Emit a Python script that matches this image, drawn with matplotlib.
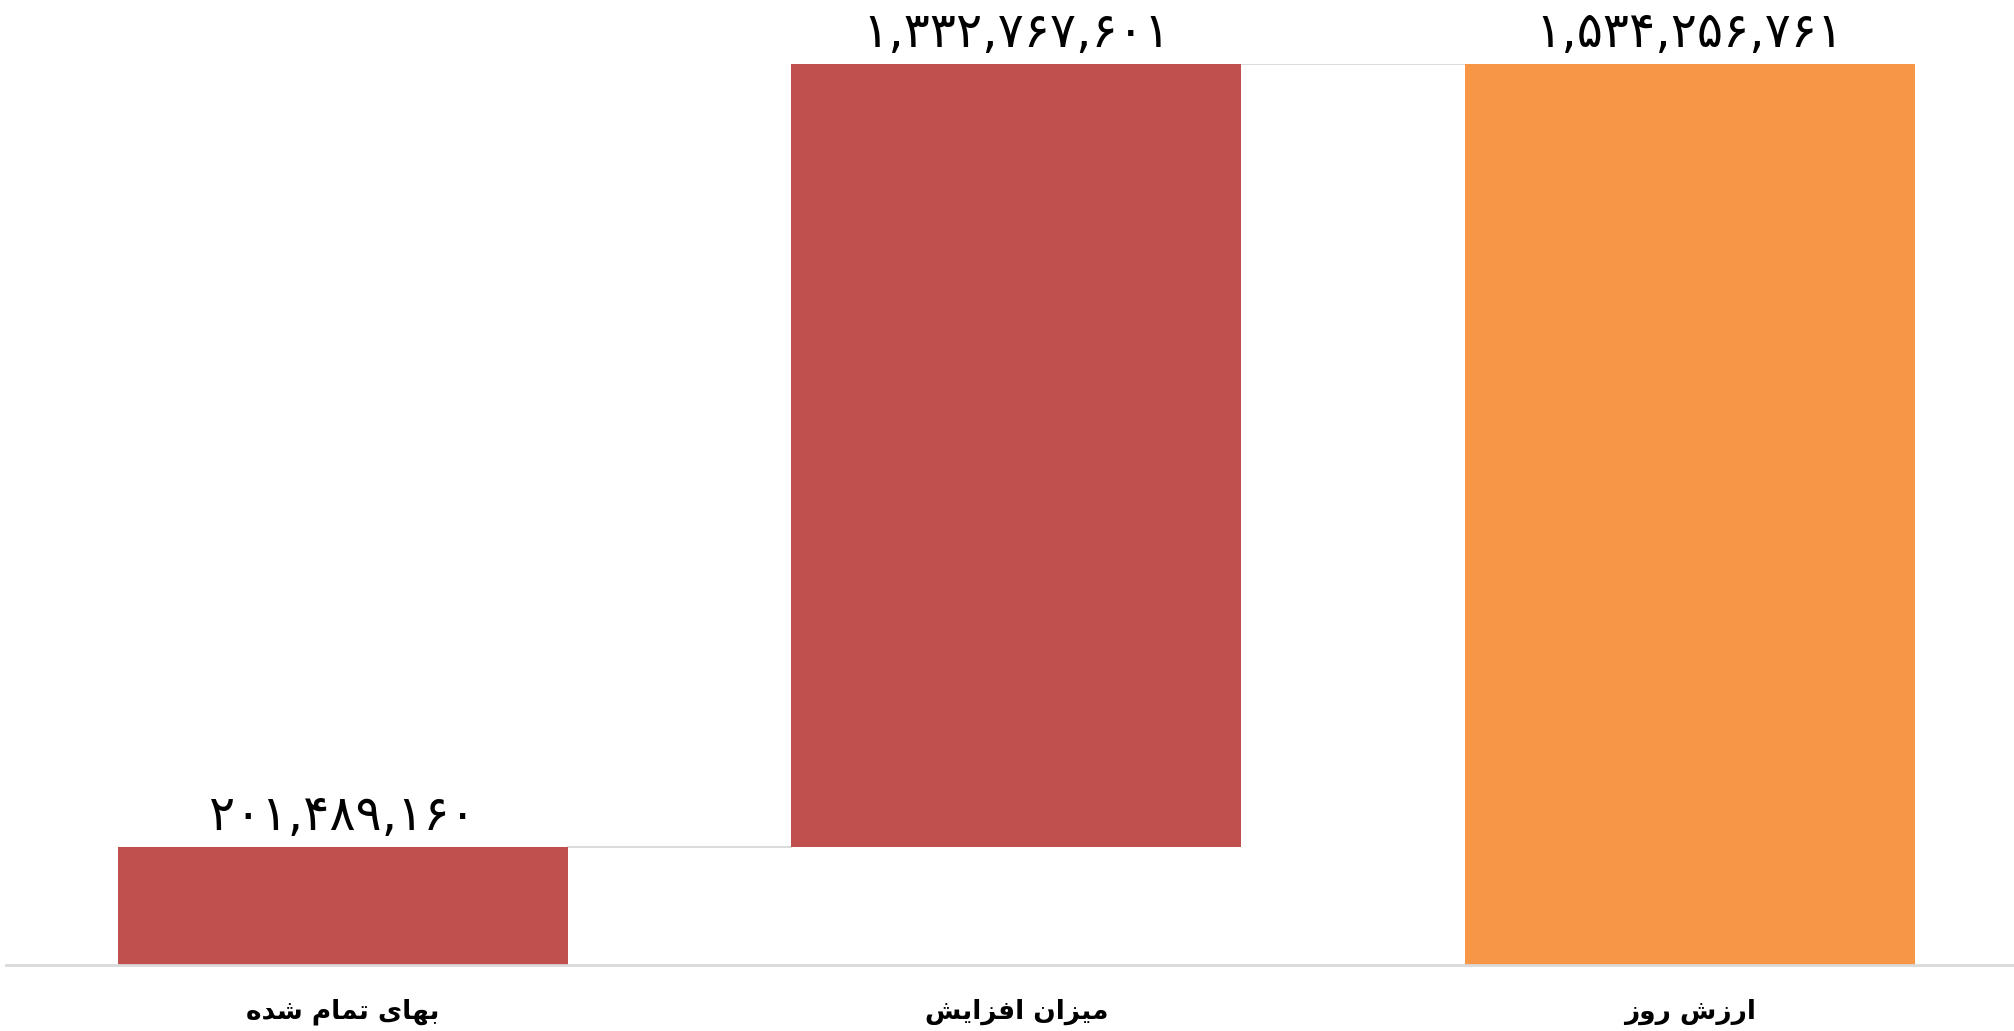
import matplotlib
matplotlib.use("Agg")
import matplotlib.pyplot as plt

categories = ["بهای تمام شده", "میزان افزایش", "ارزش روز"]
values = [201489160, 1332767601, 1534256761]
kinds = ["start", "delta", "total"]
colors = ["#C0504D", "#C0504D", "#F79646"]

# --- minimal Arabic/Persian shaping (matplotlib has no complex text layout) ---
FORMS = {
    "\u0627": ("\uFE8D", "\uFE8E", None, None),
    "\u0628": ("\uFE8F", "\uFE90", "\uFE91", "\uFE92"),
    "\u062A": ("\uFE95", "\uFE96", "\uFE97", "\uFE98"),
    "\u062F": ("\uFEA9", "\uFEAA", None, None),
    "\u0631": ("\uFEAD", "\uFEAE", None, None),
    "\u0632": ("\uFEAF", "\uFEB0", None, None),
    "\u0634": ("\uFEB5", "\uFEB6", "\uFEB7", "\uFEB8"),
    "\u0641": ("\uFED1", "\uFED2", "\uFED3", "\uFED4"),
    "\u0645": ("\uFEE1", "\uFEE2", "\uFEE3", "\uFEE4"),
    "\u0646": ("\uFEE5", "\uFEE6", "\uFEE7", "\uFEE8"),
    "\u0647": ("\uFEE9", "\uFEEA", "\uFEEB", "\uFEEC"),
    "\u0648": ("\uFEED", "\uFEEE", None, None),
    "\u06CC": ("\uFBFC", "\uFBFD", "\uFBFE", "\uFBFF"),
}


def shape(text):
    out = []
    n = len(text)
    for i, ch in enumerate(text):
        if ch not in FORMS:
            out.append(ch)
            continue
        f = FORMS[ch]
        prev = text[i - 1] if i > 0 else None
        nxt = text[i + 1] if i < n - 1 else None
        join_prev = prev in FORMS and FORMS[prev][2] is not None
        join_next = nxt in FORMS and f[2] is not None
        if join_prev and join_next:
            out.append(f[3])
        elif join_prev:
            out.append(f[1])
        elif join_next:
            out.append(f[2])
        else:
            out.append(f[0])
    return "".join(reversed(out))


PERSIAN = str.maketrans("0123456789", "۰۱۲۳۴۵۶۷۸۹")


def fmt(v):
    return f"{v:,}".translate(PERSIAN)


fig = plt.figure(figsize=(20.15, 10.31), dpi=100)
W, H = 2015, 1031
ax = fig.add_axes([6 / W, (H - 965) / H, (W - 6) / W, (965 - 64) / H])

x = list(range(len(categories)))
bottoms = []
heights = []
run = 0
for v, k in zip(values, kinds):
    if k == "start":
        bottoms.append(0); heights.append(v); run = v
    elif k == "delta":
        bottoms.append(run); heights.append(v); run += v
    else:
        bottoms.append(0); heights.append(v); run = v

bw = 0.668
ax.bar(x, heights, bottom=bottoms, width=bw, color=colors, zorder=2)

# connectors
levels = [bottoms[0] + heights[0], bottoms[1] + heights[1]]
for i, lvl in enumerate(levels):
    ax.plot([x[i] + bw / 2, x[i + 1] - bw / 2], [lvl, lvl], color="#D9D9D9", lw=1.3, zorder=1)

for xi, b, h, v in zip(x, bottoms, heights, values):
    ax.text(xi, b + h + 12_000_000, fmt(v), ha="center", va="bottom",
            fontsize=35, family="DejaVu Sans", color="black")

ax.set_xlim(-0.5, 2.483)
ax.set_ylim(0, values[2])
ax.set_xticks(x)
ax.set_xticklabels([shape(c) for c in categories], fontsize=19, fontweight="bold",
                   family="DejaVu Sans")
ax.tick_params(axis="x", length=0, pad=24)
ax.set_yticks([])
for s in ["top", "right", "left"]:
    ax.spines[s].set_visible(False)
ax.spines["bottom"].set_color("#D9D9D9")
ax.spines["bottom"].set_linewidth(2)

fig.savefig("out.png", dpi=100)
